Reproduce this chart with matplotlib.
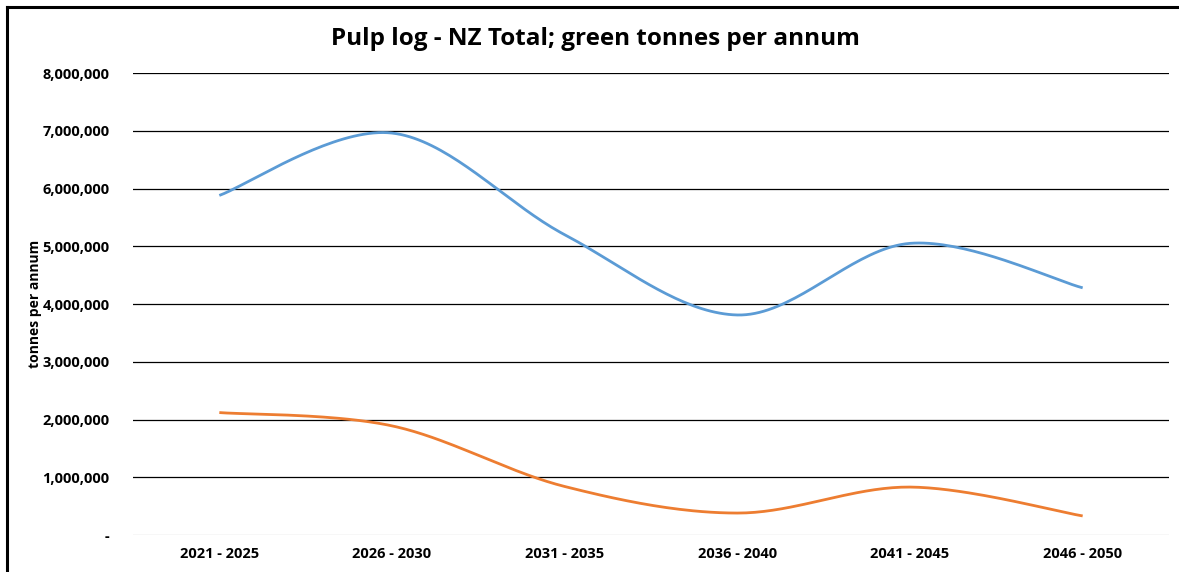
import matplotlib.pyplot as plt
import numpy as np
from matplotlib.lines import Line2D
from matplotlib.ticker import FuncFormatter

periods = ['2021 - 2025', '2026 - 2030', '2031 - 2035', '2036 - 2040', '2041 - 2045', '2046 - 2050']
series_a = [5880000, 6960000, 5200000, 3810000, 5050000, 4280000]
series_b = [2120000, 1890000, 840000, 380000, 830000, 330000]

blue = '#5B9BD5'
orange = '#ED7D31'


def smooth(xs, ys, n=40):
    # excel-like smoothed line: cubic bezier through points
    px = np.array(xs, float)
    py = np.array(ys, float)
    px = np.concatenate([[px[0]], px, [px[-1]]])
    py = np.concatenate([[py[0]], py, [py[-1]]])
    t = np.linspace(0, 1, n)
    outx, outy = [], []
    for i in range(1, len(px) - 2):
        p0 = np.array([px[i], py[i]])
        p3 = np.array([px[i + 1], py[i + 1]])
        c1 = p0 + (np.array([px[i + 1], py[i + 1]]) - np.array([px[i - 1], py[i - 1]])) / 6
        c2 = p3 - (np.array([px[i + 2], py[i + 2]]) - np.array([px[i], py[i]])) / 6
        b = ((1 - t) ** 3)[:, None] * p0 + (3 * (1 - t) ** 2 * t)[:, None] * c1 \
            + (3 * (1 - t) * t ** 2)[:, None] * c2 + (t ** 3)[:, None] * p3
        outx.extend(b[:, 0])
        outy.extend(b[:, 1])
    return outx, outy


plt.rcParams['font.family'] = ['Open Sans', 'DejaVu Sans']

fig = plt.figure(figsize=(11.79, 5.72), dpi=100)
ax = fig.add_axes([133 / 1179, 1 - 535 / 572, (1169 - 133) / 1179, (535 - 73) / 572])

x = np.arange(len(periods))
sx, sy = smooth(x, series_a)
ax.plot(sx, sy, color=blue, lw=2, solid_capstyle='butt', zorder=3)
sx, sy = smooth(x, series_b)
ax.plot(sx, sy, color=orange, lw=2, solid_capstyle='butt', zorder=3)

ax.set_xlim(-0.5, len(periods) - 0.5)
ax.set_ylim(0, 8000000)
ax.set_yticks(np.arange(0, 8000001, 1000000))
ax.yaxis.set_major_formatter(FuncFormatter(lambda v, p: '-' if v == 0 else f'{v:,.0f}'))
ax.set_xticks(x)
ax.set_xticklabels(periods)
for v in range(1, 9):
    ax.axhline(v * 1000000, color='#000000', lw=0.9, zorder=1)
ax.axhline(0, color='#D9D9D9', lw=1, zorder=1)
for s in ax.spines.values():
    s.set_visible(False)
ax.tick_params(length=0, labelsize=10.5, pad=17)
ax.tick_params(axis='x', pad=9)
for lab in ax.get_xticklabels() + ax.get_yticklabels():
    lab.set_fontweight('bold')

ax.set_ylabel('tonnes per annum', fontsize=10, fontweight='bold', labelpad=0)
fig.text(595 / 1179, 1 - 39 / 572, 'Pulp log - NZ Total; green tonnes per annum',
         ha='center', va='center', fontsize=17.5, fontweight='bold')

# outer frame (left and top edges visible)
fig.add_artist(Line2D([6.5 / 1179, 6.5 / 1179], [0, 1 - 7 / 572], color='black', lw=2.2))
fig.add_artist(Line2D([6.5 / 1179, 1], [1 - 7 / 572, 1 - 7 / 572], color='black', lw=2.2))

fig.savefig('out.png', dpi=100)
